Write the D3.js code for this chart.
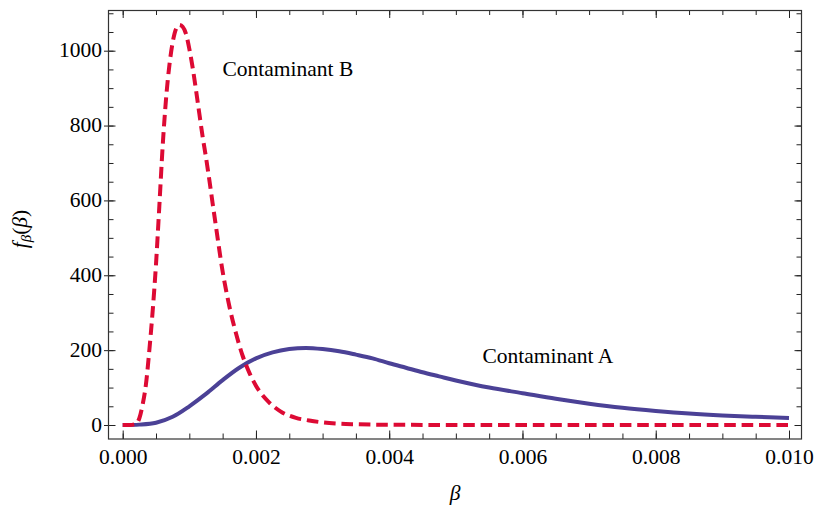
<!DOCTYPE html>
<html>
<head>
<meta charset="utf-8">
<script src="https://cdn.jsdelivr.net/npm/d3@7.9.0/dist/d3.min.js"></script>
<style>
  body { margin: 0; background: #fff; }
  svg { display: block; }
  svg text { font-family: 'Liberation Serif', 'Times New Roman', Times, 'DejaVu Serif', serif; }
</style>
</head>
<body>
<svg id="chart" width="815" height="510"></svg>
<script>
// beta values (x) and density
const betaA = [0, 0.00025, 0.0005, 0.00075, 0.001, 0.00125, 0.0015, 0.00175, 0.002, 0.00225,
  0.0025, 0.00275, 0.003, 0.00325, 0.0035, 0.00375, 0.004, 0.00425, 0.0045, 0.00475,
  0.005, 0.0055, 0.006, 0.0065, 0.007, 0.0075, 0.008, 0.0085, 0.009, 0.0095, 0.01];
const densityA = [0, 1, 6, 22, 50, 83, 120, 153, 178, 194,
  203, 206, 203, 197, 188, 178, 165, 153, 141, 130,
  119, 100, 85, 70, 57, 46, 37.5, 30.5, 25.5, 22, 19];

const betaB = [0, 0.0001, 0.0002, 0.00025, 0.0003, 0.00035, 0.0004, 0.00045, 0.0005, 0.00055,
  0.0006, 0.00065, 0.0007, 0.00075, 0.0008, 0.00085, 0.0009, 0.00095, 0.001, 0.00105,
  0.0011, 0.00115, 0.0012, 0.00125, 0.0013, 0.00135, 0.0014, 0.0015, 0.0016, 0.0017,
  0.0018, 0.0019, 0.002, 0.0022, 0.0024, 0.0026, 0.0028, 0.003, 0.0032, 0.0035,
  0.004, 0.005, 0.006, 0.008, 0.01];
const densityB = [0, 0, 3, 18, 55, 110, 200, 305, 430, 585,
  745, 870, 960, 1022, 1058, 1069, 1064, 1045, 1005, 955,
  895, 832, 770, 715, 655, 592, 530, 410, 318, 245,
  185, 140, 105, 60, 33, 19, 12, 7, 4, 2,
  0.6, 0.1, 0, 0, 0];

const xTicks = [0, 0.002, 0.004, 0.006, 0.008, 0.01];
const yTicks = [0, 200, 400, 600, 800, 1000];

const labelA = 'Contaminant A';
const labelB = 'Contaminant B';

const colorA = '#4b4196';
const colorB = '#dd0a34';

const plotLeft = 108.5, plotRight = 801.5, plotTop = 10.5, plotBottom = 439;

const x = d3.scaleLinear().domain([-0.000213, 0.0101876]).range([plotLeft, plotRight]);
const y = d3.scaleLinear().domain([-37.4, 1107.4]).range([plotBottom, plotTop]);

const svg = d3.select('#chart');

const xMinor = d3.range(0, 0.01001, 0.0005);
const yMinor = d3.range(0, 1101, 50);

// minor ticks, all four sides
svg.append('g').attr('transform', `translate(0,${plotBottom})`)
  .call(d3.axisBottom(x).tickValues(xMinor).tickSize(-5.5).tickFormat(''));
svg.append('g').attr('transform', `translate(0,${plotTop})`)
  .call(d3.axisTop(x).tickValues(xMinor).tickSize(-4.5).tickFormat(''));
svg.append('g').attr('transform', `translate(${plotLeft},0)`)
  .call(d3.axisLeft(y).tickValues(yMinor).tickSize(-5).tickFormat(''));
svg.append('g').attr('transform', `translate(${plotRight},0)`)
  .call(d3.axisRight(y).tickValues(yMinor).tickSize(-5).tickFormat(''));

// major ticks with labels
svg.append('g').attr('transform', `translate(0,${plotBottom})`)
  .call(d3.axisBottom(x).tickValues(xTicks).tickSize(-8.5).tickPadding(9.5).tickFormat(d3.format('.3f')));
svg.append('g').attr('transform', `translate(0,${plotTop})`)
  .call(d3.axisTop(x).tickValues(xTicks).tickSize(-7.5).tickFormat(''));
const yAxis = svg.append('g').attr('transform', `translate(${plotLeft},0)`)
  .call(d3.axisLeft(y).tickValues(yTicks).tickSize(-7).tickPadding(6.5).tickFormat(d3.format('d')));
yAxis.selectAll('.tick line').attr('x1', -4.5).attr('x2', 7);
svg.append('g').attr('transform', `translate(${plotRight},0)`)
  .call(d3.axisRight(y).tickValues(yTicks).tickSize(-7).tickFormat(''));

svg.selectAll('.domain').remove();
svg.selectAll('g').attr('font-family', null);
svg.selectAll('.tick line').attr('stroke', '#222').attr('stroke-width', 1);
svg.selectAll('.tick text')
  .attr('font-size', 21.5)
  .attr('fill', '#000');
yAxis.selectAll('.tick text').attr('dy', '0.29em');

// frame
svg.append('rect')
  .attr('x', plotLeft).attr('y', plotTop)
  .attr('width', plotRight - plotLeft).attr('height', plotBottom - plotTop)
  .attr('fill', 'none').attr('stroke', '#333').attr('stroke-width', 1.2);

svg.append('path')
  .datum(d3.zip(betaA, densityA))
  .attr('d', d3.line().x((d) => x(d[0])).y((d) => y(d[1])).curve(d3.curveCatmullRom.alpha(0.5)))
  .attr('fill', 'none')
  .attr('stroke', colorA)
  .attr('stroke-width', 4);

svg.append('path')
  .datum(d3.zip(betaB, densityB))
  .attr('d', d3.line().x((d) => x(d[0])).y((d) => y(d[1])).curve(d3.curveMonotoneX))
  .attr('fill', 'none')
  .attr('stroke', colorB)
  .attr('stroke-width', 4)
  .attr('stroke-dasharray', '11.6,5.8');

// curve labels
svg.append('text').attr('x', 222.5).attr('y', 75.5)
  .attr('font-size', 21.5).text(labelB);
svg.append('text').attr('x', 482.5).attr('y', 363)
  .attr('font-size', 21.5).text(labelA);

// axis titles
svg.append('text')
  .attr('x', (plotLeft + plotRight) / 2).attr('y', 500)
  .attr('text-anchor', 'middle')
  .attr('font-size', 21.5).attr('font-style', 'italic')
  .text('β');

const yTitle = svg.append('text')
  .attr('transform', 'translate(27,229) rotate(-90)')
  .attr('text-anchor', 'middle')
  .attr('font-size', 21.5);
yTitle.append('tspan').attr('font-style', 'italic').text('f');
yTitle.append('tspan').attr('font-style', 'italic').attr('font-size', 15).attr('dy', 4).text('β');
yTitle.append('tspan').attr('dy', -4).text('(');
yTitle.append('tspan').attr('font-style', 'italic').text('β');
yTitle.append('tspan').text(')');
</script>
</body>
</html>
